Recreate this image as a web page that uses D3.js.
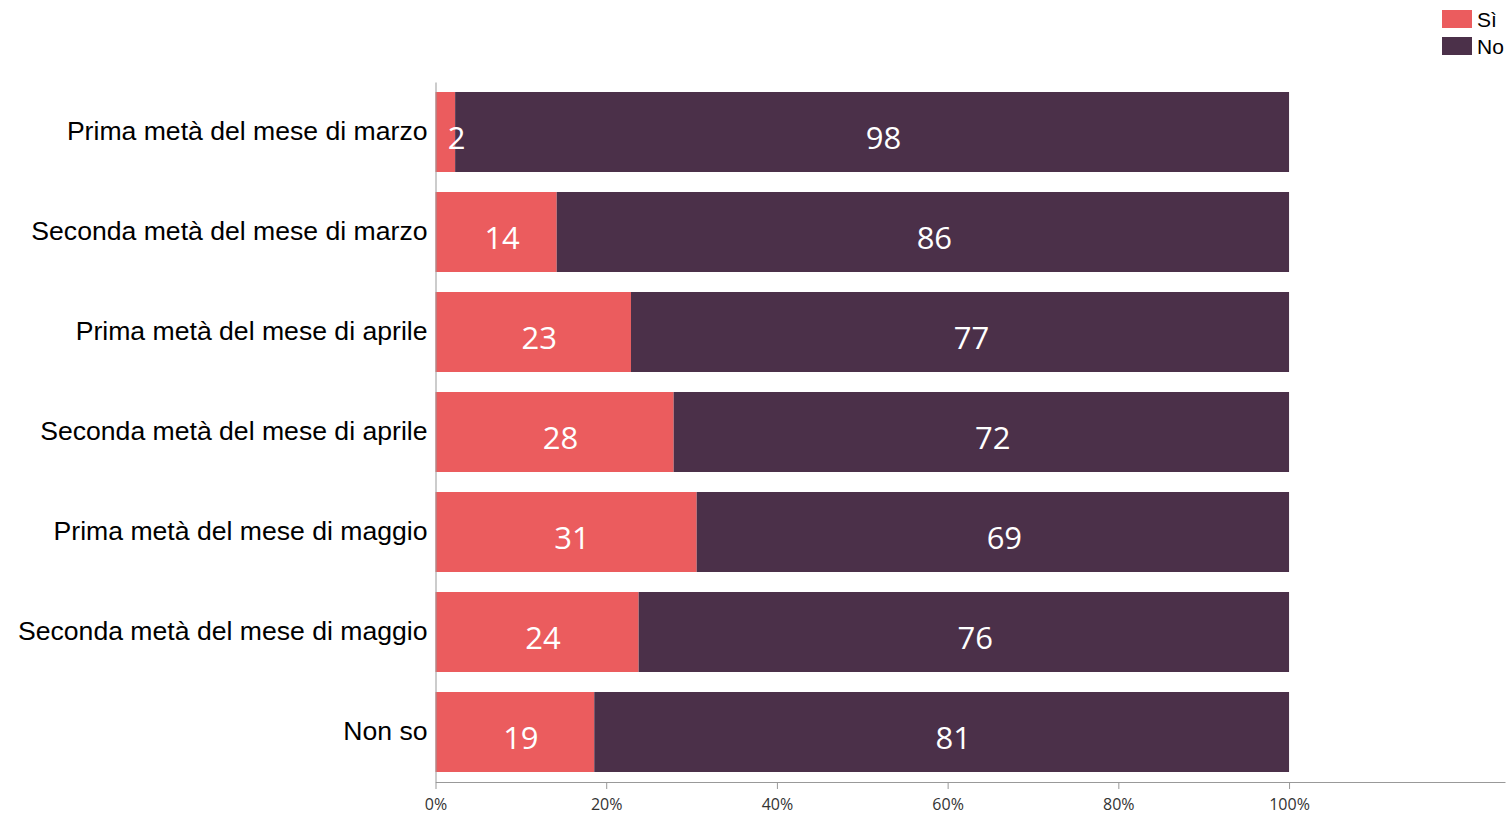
<!DOCTYPE html>
<html>
<head>
<meta charset="utf-8">
<script src="https://cdn.jsdelivr.net/npm/d3@7"></script>
<style>
  body { margin: 0; background: #fff; }
  svg { display: block; }
</style>
</head>
<body>
<div id="chart"></div>
<script>
// categories and values (percent, labels show them rounded)
const categories = [
    'Prima metà del mese di marzo',
    'Seconda metà del mese di marzo',
    'Prima metà del mese di aprile',
    'Seconda metà del mese di aprile',
    'Prima metà del mese di maggio',
    'Seconda metà del mese di maggio',
    'Non so'
];
const siValues = [2.3, 14.2, 22.9, 27.9, 30.6, 23.8, 18.6];
const noValues = [97.7, 85.8, 77.1, 72.1, 69.4, 76.2, 81.4];
const seriesNames = ['Sì', 'No'];
const tickValues = [0, 20, 40, 60, 80, 100];

const colors = ['#eb5c5e', '#4b3049'];
const labelShift = [6, 11.5];

const svgWidth = 1506;
const svgHeight = 815;

const svg = d3.select('#chart')
    .append('svg')
    .attr('width', svgWidth)
    .attr('height', svgHeight);

const rows = categories.map((c, i) => ({ cat: c, 'Sì': siValues[i], 'No': noValues[i] }));
const stacked = d3.stack().keys(seriesNames)(rows);

// x axis runs past 100% to the right edge
const xScale = d3.scaleLinear()
    .domain([0, 125.3])
    .range([435.5, 1505]);

const yScale = d3.scaleBand()
    .domain(categories)
    .range([82, 782])
    .paddingInner(0.2)
    .paddingOuter(0.1);

// bars
svg.append('g').selectAll('g')
    .data(stacked)
    .enter()
    .append('g')
    .attr('fill', (d, i) => colors[i])
    .selectAll('rect')
    .data(d => d)
    .enter()
    .append('rect')
    .attr('x', d => xScale(d[0]))
    .attr('y', d => yScale(d.data.cat))
    .attr('width', d => xScale(d[1]) - xScale(d[0]))
    .attr('height', yScale.bandwidth());

// value labels, drawn over all bars
const labels = svg.append('g');
stacked.forEach((layer, li) => {
    labels.selectAll('text.s' + li)
        .data(layer)
        .enter()
        .append('text')
        .attr('class', 's' + li)
        .attr('x', d => Math.max((xScale(d[0]) + xScale(d[1])) / 2 + labelShift[li], xScale(d[0]) + 21))
        .attr('y', d => yScale(d.data.cat) + yScale.bandwidth() / 2 + 17)
        .attr('text-anchor', 'middle')
        .attr('fill', '#fff')
        .style('font-family', '"Open Sans", sans-serif')
        .style('font-size', '31px')
        .text(d => Math.round(d[1] - d[0]));
});

// x axis
const xAxis = d3.axisBottom(xScale)
    .tickValues(tickValues)
    .tickSize(7)
    .tickSizeOuter(0)
    .tickFormat(d => d + '%');

const gx = svg.append('g')
    .attr('transform', 'translate(0,782)')
    .call(xAxis);
gx.select('.domain').attr('stroke', '#999');
gx.selectAll('.tick line').attr('stroke', '#999');
gx.selectAll('.tick text')
    .attr('y', 28)
    .attr('dy', 0)
    .attr('fill', '#333')
    .style('font-family', '"Open Sans", sans-serif')
    .style('font-size', '16px');

// y axis
const yAxis = d3.axisLeft(yScale).tickSize(0).tickSizeOuter(0).tickPadding(8);
const gy = svg.append('g')
    .attr('transform', 'translate(435.5,0)')
    .call(yAxis);
gy.select('.domain').attr('stroke', '#999');
gy.selectAll('.tick text')
    .attr('dy', '0.3em')
    .attr('fill', '#000')
    .style('font-family', '"Liberation Sans", Arial, sans-serif')
    .style('font-size', '26.6px');

// legend
const legend = svg.append('g')
    .attr('transform', 'translate(1442,10)');
const items = legend.selectAll('g')
    .data(seriesNames)
    .enter()
    .append('g')
    .attr('transform', (d, i) => `translate(0,${i * 27})`);
items.append('rect')
    .attr('width', 30)
    .attr('height', 18)
    .attr('fill', (d, i) => colors[i]);
items.append('text')
    .attr('x', 35)
    .attr('y', 17)
    .style('font-family', '"Liberation Sans", Arial, sans-serif')
    .style('font-size', '21px')
    .attr('fill', '#000')
    .text(d => d);
</script>
</body>
</html>
